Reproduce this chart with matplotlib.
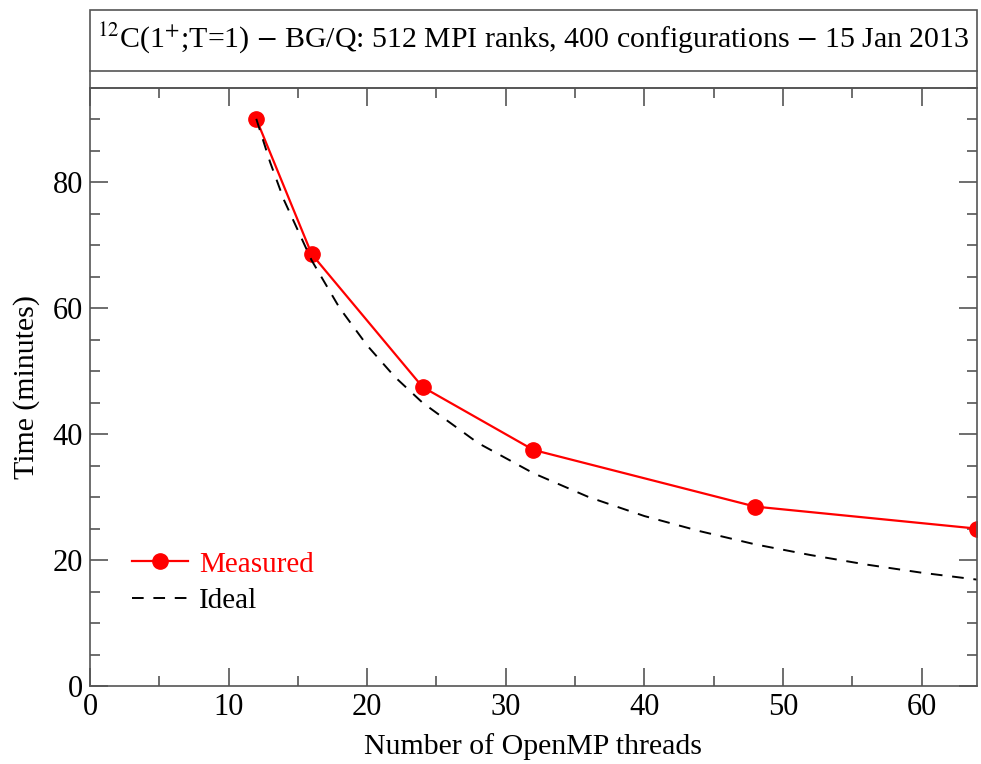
import numpy as np
import matplotlib.pyplot as plt
from matplotlib.ticker import MultipleLocator
from matplotlib.patches import Rectangle
from matplotlib.lines import Line2D

plt.rcParams['font.family'] = ['Liberation Serif', 'DejaVu Serif']
plt.rcParams['mathtext.fontset'] = 'stix'

# measured timings
threads = [12, 16, 24, 32, 48, 64]
measured = [90.1, 68.6, 47.5, 37.5, 28.5, 25.0]

# ideal scaling curve
ideal_threads = [12, 13, 14, 16, 18, 20, 22, 24, 28, 32, 36, 40, 44, 48, 52, 56, 60, 64]
ideal = [90.1, 83.2, 77.2, 67.6, 60.1, 54.1, 49.1, 45.0, 38.6, 33.8, 30.0, 27.0,
         24.6, 22.5, 20.8, 19.3, 18.0, 16.9]

title = r'$^{12}$C(1$^{+}$;T=1) $-$ BG/Q: 512 MPI ranks, 400 configurations $-$ 15 Jan 2013'

fig = plt.figure(figsize=(9.81, 7.64), dpi=100)
ax = fig.add_axes([0.0917, 0.1021, 0.9042, 0.7827])

ax.plot(threads, measured, color='red', lw=1.6, marker='o', markersize=11, label='Measured')
ax.plot(ideal_threads, ideal, color='black', lw=1.4, ls=(0, (6, 5)), label='Ideal')

ax.set_xlim(0, 64)
ax.set_ylim(0, 95)
ax.xaxis.set_major_locator(MultipleLocator(10))
ax.xaxis.set_minor_locator(MultipleLocator(5))
ax.yaxis.set_major_locator(MultipleLocator(20))
ax.yaxis.set_minor_locator(MultipleLocator(5))
ax.tick_params(which='both', direction='in', top=True, right=True, color='#555555',
               width=1.2, labelsize=22)
ax.tick_params(which='major', length=13, pad=5)
ax.tick_params(which='minor', length=7)
for s in ax.spines.values():
    s.set_color('#555555')
    s.set_linewidth(1.2)

ax.set_xlabel('Number of OpenMP threads', fontsize=21.5, labelpad=8)
ax.set_ylabel('Time (minutes)', fontsize=21.5, labelpad=9)

ax.legend(loc='lower left', bbox_to_anchor=(0.018, 0.076), frameon=False, fontsize=21,
          labelcolor='linecolor', handlelength=1.9, handletextpad=0.4, labelspacing=0.35)

# title box with empty subtitle strip below
fig.patches.append(Rectangle((0.0917, 0.8848), 0.9042, 0.1021, transform=fig.transFigure,
                             fill=False, edgecolor='#555555', lw=1.2))
fig.lines.append(Line2D([0.0917, 0.9959], [0.9071, 0.9071], transform=fig.transFigure,
                        color='#555555', lw=1.2))
fig.text(0.5438, 0.951, title, ha='center', va='center', fontsize=21.5)

fig.savefig('out.png', dpi=100)
